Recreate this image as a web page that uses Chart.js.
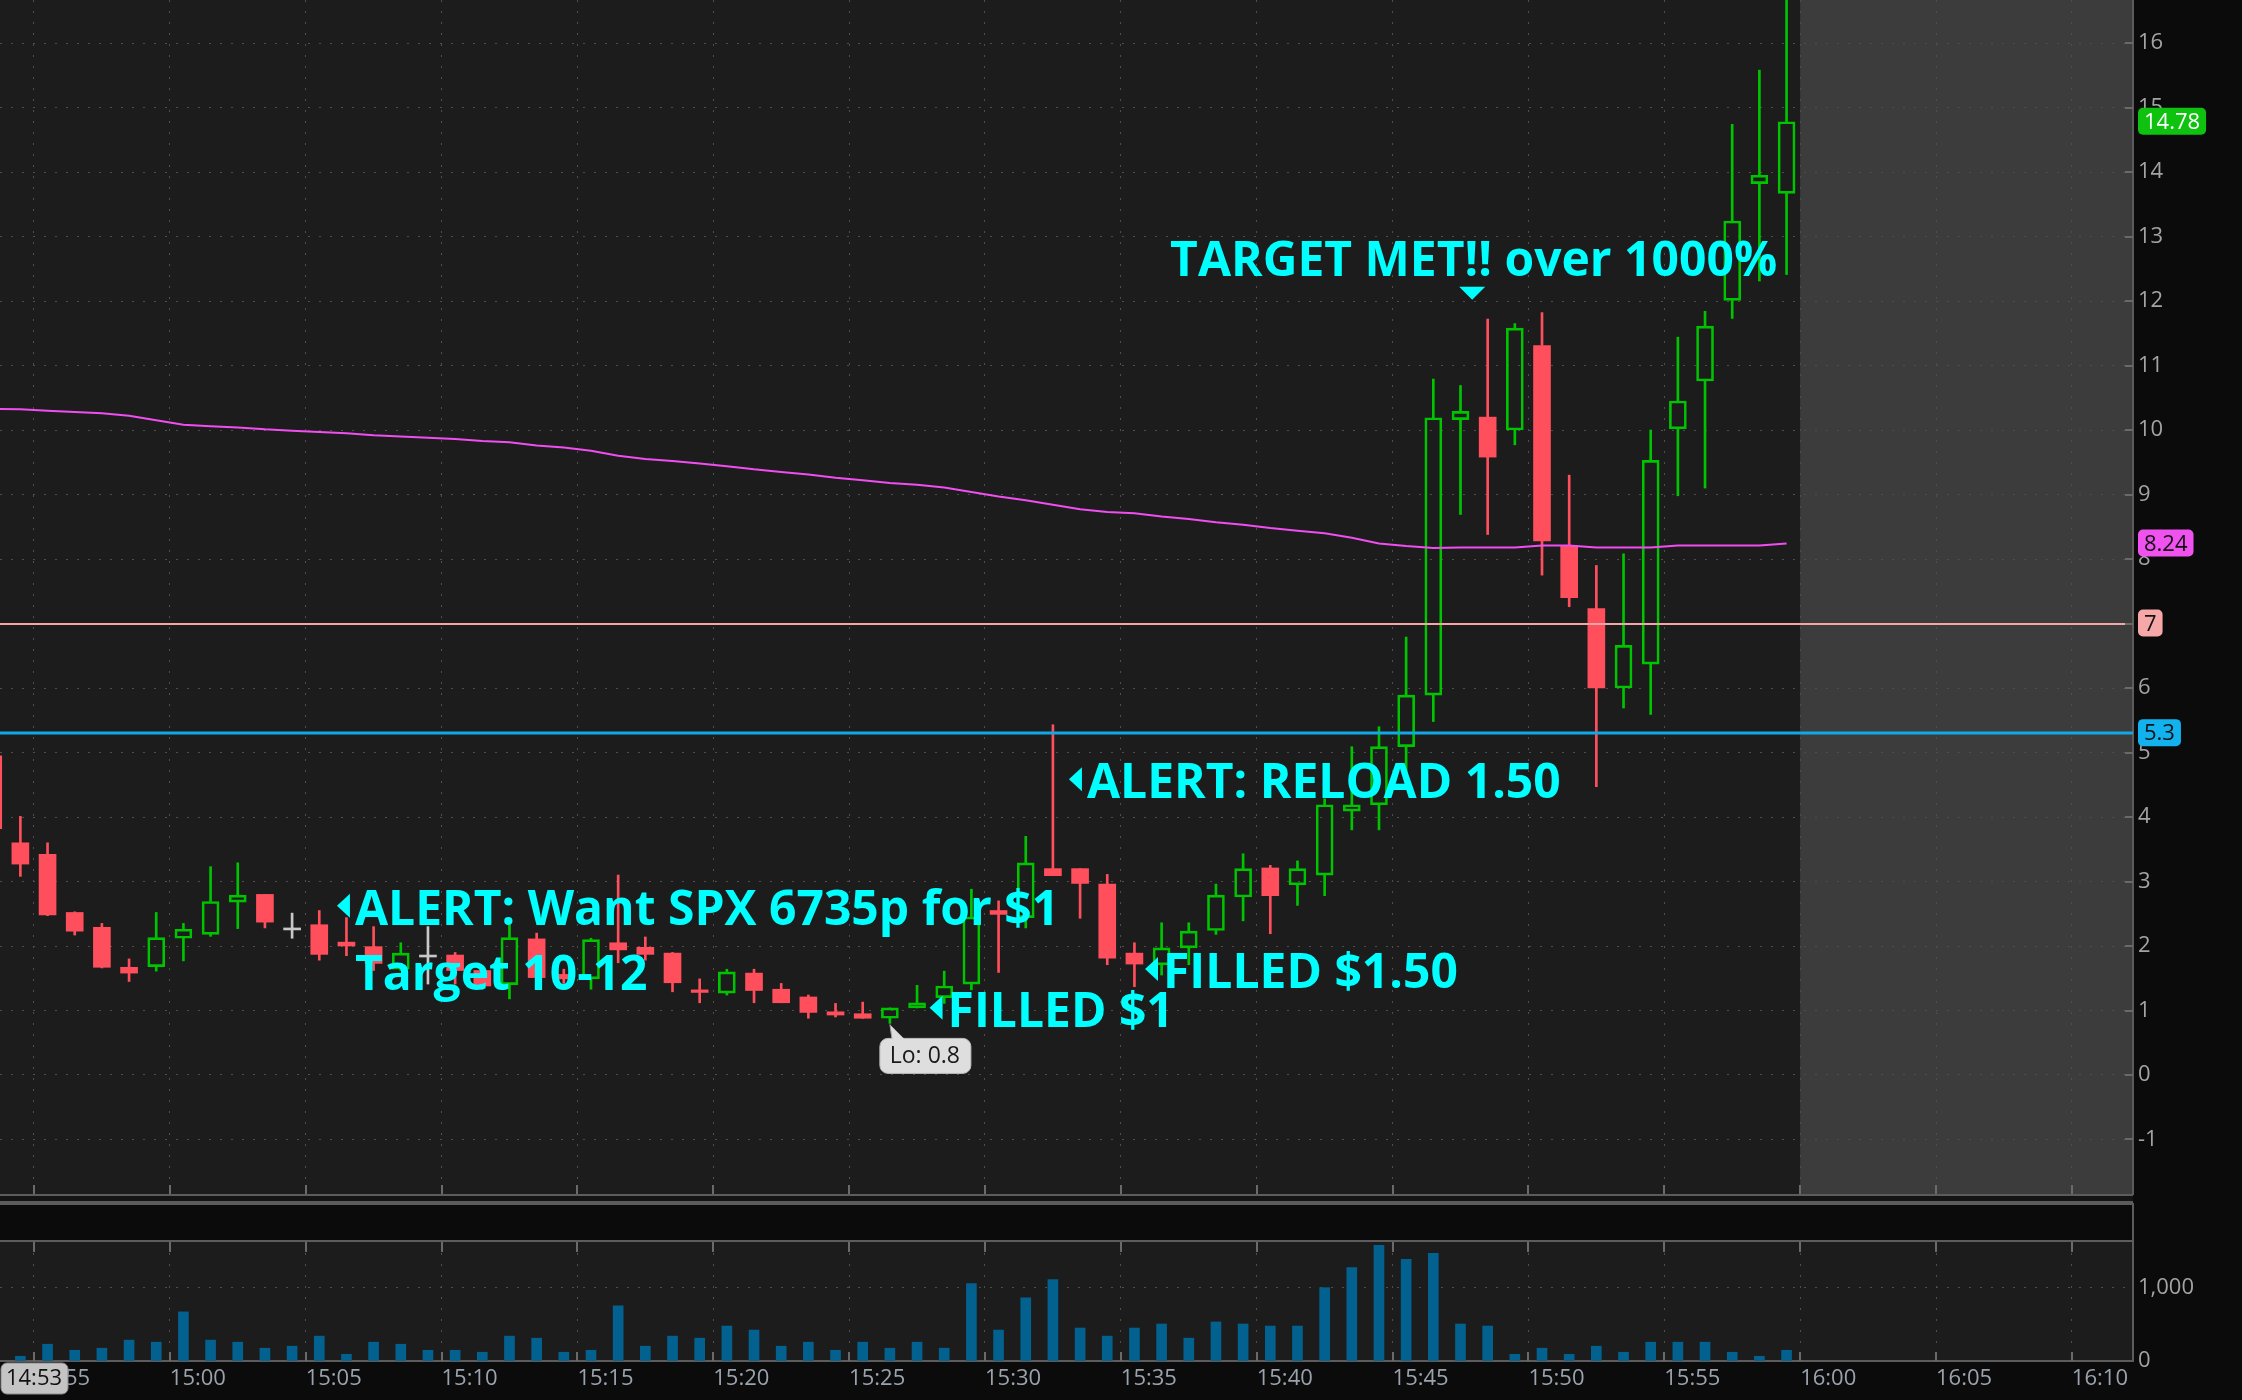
<!DOCTYPE html>
<html lang="en">
<head>
<meta charset="utf-8"/>
<title>SPX 6735p - 1 min</title>
<script src="https://cdn.jsdelivr.net/npm/chart.js"></script>
<style>
html, body { margin: 0; padding: 0; background: #0b0b0b; }
body { width: 2242px; height: 1400px; position: relative; overflow: hidden; }
#priceChart { position: absolute; left: 0; top: 0; }
#volumeChart { position: absolute; left: 0; top: 1203px; }
</style>
</head>
<body>
<canvas id="priceChart" width="2242" height="1203"></canvas>
<canvas id="volumeChart" width="2242" height="197"></canvas>
<script>
// one candle per minute
const times = [
  '14:53','14:54','14:55','14:56','14:57','14:58','14:59',
  '15:00','15:01','15:02','15:03','15:04','15:05','15:06','15:07','15:08','15:09',
  '15:10','15:11','15:12','15:13','15:14','15:15','15:16','15:17','15:18','15:19',
  '15:20','15:21','15:22','15:23','15:24','15:25','15:26','15:27','15:28','15:29',
  '15:30','15:31','15:32','15:33','15:34','15:35','15:36','15:37','15:38','15:39',
  '15:40','15:41','15:42','15:43','15:44','15:45','15:46','15:47','15:48','15:49',
  '15:50','15:51','15:52','15:53','15:54','15:55','15:56','15:57','15:58','15:59'
];
const opens = [
  4.95, 3.60, 3.42, 2.52, 2.29, 1.67, 1.68,
  2.12, 2.18, 2.68, 2.80, 2.28, 2.33, 2.06, 1.99, 1.64, 1.86,
  1.86, 1.62, 1.40, 2.11, 1.56, 1.49, 2.05, 1.98, 1.89, 1.32,
  1.27, 1.58, 1.33, 1.21, 0.98, 0.95, 0.88, 1.04, 1.20, 1.41,
  2.55, 2.44, 3.20, 3.20, 2.96, 1.89, 1.71, 1.97, 2.24, 2.76,
  3.21, 2.95, 3.10, 4.09, 4.19, 5.09, 5.89, 10.16, 10.20, 10.00,
  11.31, 8.21, 7.23, 6.00, 6.37, 10.02, 10.76, 12.01, 13.82, 13.67
];
const highs = [
  5.00, 4.01, 3.60, 2.53, 2.35, 1.80, 2.52,
  2.35, 3.23, 3.29, 2.80, 2.51, 2.55, 2.44, 2.30, 2.05, 2.30,
  1.90, 1.65, 2.33, 2.20, 1.64, 2.12, 3.10, 2.14, 1.90, 1.49,
  1.64, 1.64, 1.42, 1.24, 1.11, 1.13, 1.04, 1.39, 1.61, 2.88,
  2.70, 3.70, 5.43, 3.20, 3.11, 2.05, 2.36, 2.36, 2.96, 3.43,
  3.25, 3.32, 4.28, 5.09, 5.40, 6.79, 10.79, 10.69, 11.72, 11.65,
  11.82, 9.30, 7.90, 8.08, 10.00, 11.44, 11.84, 14.74, 15.58, 16.90
];
const lows = [
  3.75, 3.08, 2.47, 2.17, 1.66, 1.45, 1.61,
  1.77, 2.15, 2.27, 2.28, 2.12, 1.78, 1.85, 1.62, 1.62, 1.41,
  1.41, 1.33, 1.18, 1.45, 1.42, 1.33, 1.74, 1.78, 1.29, 1.12,
  1.24, 1.12, 1.12, 0.88, 0.90, 0.88, 0.80, 1.04, 1.11, 1.32,
  1.59, 2.28, 3.09, 2.43, 1.71, 1.37, 1.55, 1.71, 2.18, 2.39,
  2.19, 2.63, 2.78, 3.80, 3.80, 4.60, 5.48, 8.69, 8.38, 9.77,
  7.75, 7.26, 4.47, 5.69, 5.59, 8.98, 9.10, 11.73, 12.31, 12.41
];
const closes = [
  3.82, 3.27, 2.48, 2.23, 1.67, 1.58, 2.13,
  2.26, 2.69, 2.79, 2.37, 2.28, 1.87, 2.00, 1.73, 1.89, 1.86,
  1.62, 1.38, 2.13, 1.51, 1.49, 2.10, 1.94, 1.87, 1.43, 1.28,
  1.60, 1.31, 1.12, 0.97, 0.93, 0.88, 1.04, 1.12, 1.38, 2.45,
  2.49, 3.29, 3.09, 2.97, 1.81, 1.72, 1.97, 2.23, 2.79, 3.20,
  2.78, 3.20, 4.19, 4.19, 5.09, 5.89, 10.19, 10.29, 9.58, 11.58,
  8.28, 7.40, 6.00, 6.66, 9.53, 10.45, 11.61, 13.24, 13.95, 14.78
];
const volumes = [
  150, 65, 230, 147, 175, 286, 258,
  673, 286, 258, 175, 203, 341, 92, 258, 230, 147,
  147, 120, 341, 313, 120, 147, 756, 203, 341, 313,
  479, 424, 203, 258, 147, 258, 175, 258, 175, 1060,
  424, 866, 1115, 452, 341, 452, 507, 313, 535, 507,
  479, 479, 1005, 1281, 1585, 1392, 1475, 507, 479, 92,
  175, 92, 203, 120, 258, 258, 258, 120, 65, 147
];
const vwap = [
  10.33, 10.32, 10.30, 10.28, 10.26, 10.22, 10.15,
  10.08, 10.06, 10.04, 10.01, 9.99, 9.97, 9.95, 9.92, 9.90, 9.88,
  9.86, 9.83, 9.81, 9.76, 9.73, 9.68, 9.60, 9.55, 9.52, 9.48,
  9.44, 9.39, 9.35, 9.31, 9.26, 9.22, 9.18, 9.15, 9.11, 9.04,
  8.97, 8.91, 8.84, 8.77, 8.73, 8.71, 8.66, 8.62, 8.57, 8.53,
  8.48, 8.44, 8.40, 8.33, 8.24, 8.20, 8.17, 8.18, 8.18, 8.18,
  8.21, 8.21, 8.18, 8.18, 8.18, 8.21, 8.21, 8.21, 8.21, 8.24
];
const priceTicks = [-1, 0, 1, 2, 3, 4, 5, 6, 7, 8, 9, 10, 11, 12, 13, 14, 15, 16];
const volumeTicks = [0, 1000];
const timeTicks = ['14:55','15:00','15:05','15:10','15:15','15:20','15:25','15:30',
                   '15:35','15:40','15:45','15:50','15:55','16:00','16:05','16:10'];
const levels = [7, 5.3];
const sessionEnd = '16:00';
const cursorTime = '14:53';

// notes: time in minutes after 14:00 (arrow tip), price at the text baseline
const notes = [
  { text: 'ALERT: Want SPX 6735p for $1', time: 66.15, price: 2.33, arrow: true },
  { text: 'Target 10-12', time: 66.15, price: 1.32, arrow: false },
  { text: 'ALERT: RELOAD 1.50', time: 93.09, price: 4.29, arrow: true },
  { text: 'FILLED $1.50', time: 95.89, price: 1.35, arrow: true },
  { text: 'FILLED $1', time: 87.96, price: 0.75, arrow: true },
  { text: 'TARGET MET!! over 1000%', time: 96.15, price: 12.39, arrow: false }
];
const targetMark = { time: 107.93, price: 12.02 };

const X_MIN = 53.75, X_MAX = 132.25;
const GREEN = '#00c400', RED = '#ff4f5c', DOJI = '#c8c8c8';
const MAGENTA = '#f04ef0', CYAN = '#00ffff';
const PLOT_BG = '#1c1c1c', FUTURE_BG = '#3c3c3c';
const GRID = '#4e4e4e', AXIS_LINE = '#5c5c5c', TICK_TEXT = '#a3a3a3';
const levelColors = ['#f4a6a6', '#12a8e6'];
const levelWidths = [2, 3];
const FONT = "'Open Sans', 'Noto Sans', sans-serif";

function toMin(hhmm) {
  const [h, m] = hhmm.split(':').map(Number);
  return (h - 14) * 60 + m;
}
function minLabel(v) {
  const h = 14 + Math.floor(v / 60);
  return h + ':' + String(Math.round(v % 60)).padStart(2, '0');
}
// no extra margins from label overflow
function noPad(s) {
  s.paddingTop = 0; s.paddingBottom = 0; s.paddingLeft = 0; s.paddingRight = 0;
}

Chart.defaults.font.family = FONT;

const candleX = times.map(t => toMin(t) + 0.5);
const candleColors = opens.map((o, i) => closes[i] > o ? GREEN : closes[i] < o ? RED : DOJI);
const bodyFill = opens.map((o, i) => closes[i] > o ? 'rgba(0,0,0,0)' : candleColors[i]);
const bodyBorder = opens.map((o, i) => closes[i] > o ? 2 : 0);

function tag(ctx, x, cy, text, bg, fg) {
  ctx.font = '22px ' + FONT;
  const w = ctx.measureText(text).width + 12;
  ctx.fillStyle = bg;
  ctx.beginPath();
  ctx.roundRect(x, cy - 14, w, 27, 5);
  ctx.fill();
  ctx.fillStyle = fg;
  ctx.textAlign = 'left';
  ctx.textBaseline = 'middle';
  ctx.fillText(text, x + 6, cy + 1);
}

const priceDecor = {
  id: 'priceDecor',
  beforeDraw(chart) {
    const { ctx, chartArea: a, scales: { x } } = chart;
    ctx.save();
    ctx.fillStyle = PLOT_BG;
    ctx.fillRect(a.left, a.top, a.width, a.height);
    const fx = x.getPixelForValue(toMin(sessionEnd));
    ctx.fillStyle = FUTURE_BG;
    ctx.fillRect(fx, a.top, a.right - fx, a.height);
    ctx.restore();
  },
  afterDatasetsDraw(chart) {
    const { ctx, chartArea: a, scales: { y } } = chart;
    ctx.save();
    levels.forEach((lv, i) => {
      const py = Math.round(y.getPixelForValue(lv));
      ctx.strokeStyle = levelColors[i];
      ctx.lineWidth = levelWidths[i];
      ctx.beginPath();
      ctx.moveTo(a.left, py);
      ctx.lineTo(a.right, py);
      ctx.stroke();
    });
    ctx.restore();
  },
  afterDraw(chart) {
    const { ctx, chartArea: a, scales: { x, y } } = chart;
    ctx.save();
    // short tick marks inside the plot
    ctx.strokeStyle = '#6a6a6a';
    ctx.lineWidth = 2;
    priceTicks.forEach(v => {
      const py = Math.round(y.getPixelForValue(v));
      ctx.beginPath(); ctx.moveTo(a.right - 8, py); ctx.lineTo(a.right, py); ctx.stroke();
    });
    timeTicks.forEach(t => {
      const px = Math.round(x.getPixelForValue(toMin(t)));
      ctx.beginPath(); ctx.moveTo(px, a.bottom - 9); ctx.lineTo(px, a.bottom); ctx.stroke();
    });
    // strip under the price pane
    ctx.fillStyle = '#141414';
    ctx.fillRect(0, a.bottom, a.right, chart.height - a.bottom);
    ctx.strokeStyle = AXIS_LINE;
    ctx.beginPath(); ctx.moveTo(0, a.bottom + 1); ctx.lineTo(a.right, a.bottom + 1); ctx.stroke();
    ctx.beginPath(); ctx.moveTo(0, chart.height - 1); ctx.lineTo(a.right, chart.height - 1); ctx.stroke();

    // notes
    ctx.fillStyle = CYAN;
    ctx.font = 'bold 48px ' + FONT;
    ctx.textAlign = 'left';
    ctx.textBaseline = 'alphabetic';
    notes.forEach(n => {
      const px = x.getPixelForValue(n.time);
      const py = y.getPixelForValue(n.price);
      if (n.arrow) {
        const cy = py - 19;
        ctx.beginPath();
        ctx.moveTo(px, cy);
        ctx.lineTo(px + 13, cy - 12);
        ctx.lineTo(px + 13, cy + 12);
        ctx.closePath();
        ctx.fill();
      }
      ctx.fillText(n.text, px + 18, py);
    });
    const tx = x.getPixelForValue(targetMark.time);
    const ty = y.getPixelForValue(targetMark.price);
    ctx.beginPath();
    ctx.moveTo(tx, ty);
    ctx.lineTo(tx - 13, ty - 13);
    ctx.lineTo(tx + 13, ty - 13);
    ctx.closePath();
    ctx.fill();

    // low bubble
    let lo = 0;
    lows.forEach((v, i) => { if (v < lows[lo]) lo = i; });
    const lx = x.getPixelForValue(candleX[lo]);
    const ly = y.getPixelForValue(lows[lo]);
    const bx = lx - 10, by = ly + 15;
    ctx.fillStyle = '#dedede';
    ctx.strokeStyle = '#bdbdbd';
    ctx.lineWidth = 1;
    ctx.beginPath();
    ctx.roundRect(bx, by, 91, 35, 8);
    ctx.fill();
    ctx.stroke();
    ctx.beginPath();
    ctx.moveTo(lx, ly + 1);
    ctx.lineTo(lx + 2, by + 1);
    ctx.lineTo(lx + 15, by + 1);
    ctx.closePath();
    ctx.fill();
    ctx.strokeStyle = '#9a9a9a';
    ctx.beginPath(); ctx.moveTo(lx, ly + 1); ctx.lineTo(lx + 2, by); ctx.stroke();
    ctx.fillStyle = '#1a1a1a';
    ctx.font = '23px ' + FONT;
    ctx.textAlign = 'center';
    ctx.textBaseline = 'middle';
    ctx.fillText('Lo: ' + lows[lo], bx + 45, by + 18);

    // price tags on the axis
    const tx0 = a.right + 5;
    tag(ctx, tx0, y.getPixelForValue(levels[1]), String(levels[1]), '#12b2ee', '#111');
    tag(ctx, tx0, y.getPixelForValue(levels[0]), String(levels[0]), '#f6a8a8', '#111');
    tag(ctx, tx0, y.getPixelForValue(vwap[vwap.length - 1]), String(vwap[vwap.length - 1]), '#f052f0', '#111');
    tag(ctx, tx0, y.getPixelForValue(closes[closes.length - 1]), String(closes[closes.length - 1]), '#0fc20f', '#ffffff');
    ctx.restore();
  }
};

new Chart(document.getElementById('priceChart'), {
  type: 'bar',
  data: {
    datasets: [
      {
        type: 'line', label: 'VWAP',
        data: candleX.map((x, i) => ({ x, y: vwap[i] })),
        borderColor: MAGENTA, borderWidth: 2, pointRadius: 0, tension: 0, order: 0
      },
      {
        label: 'body',
        data: candleX.map((x, i) => ({ x, y: [opens[i], closes[i]] })),
        backgroundColor: bodyFill, borderColor: candleColors, borderWidth: bodyBorder,
        borderSkipped: false, barThickness: 17, minBarLength: 2, grouped: false, order: 1
      },
      {
        label: 'upper wick',
        data: candleX.map((x, i) => ({ x, y: [Math.max(opens[i], closes[i]), highs[i]] })),
        backgroundColor: candleColors, borderWidth: 0, barThickness: 2, grouped: false, order: 2
      },
      {
        label: 'lower wick',
        data: candleX.map((x, i) => ({ x, y: [lows[i], Math.min(opens[i], closes[i])] })),
        backgroundColor: candleColors, borderWidth: 0, barThickness: 2, grouped: false, order: 2
      }
    ]
  },
  options: {
    responsive: false,
    devicePixelRatio: 1,
    animation: false,
    events: [],
    layout: { padding: 0 },
    plugins: { legend: { display: false }, tooltip: { enabled: false } },
    scales: {
      x: {
        type: 'linear', min: X_MIN, max: X_MAX, offset: false,
        afterBuildTicks: s => { s.ticks = timeTicks.map(t => ({ value: toMin(t) })); },
        afterFit: s => { s.height = 9; noPad(s); },
        ticks: { display: false },
        grid: { color: GRID, lineWidth: 1, drawTicks: false, offset: false },
        border: { display: false, dash: [2, 9] }
      },
      y: {
        type: 'linear', position: 'right', min: -1.845, max: 16.667,
        afterBuildTicks: s => { s.ticks = priceTicks.map(v => ({ value: v })); },
        afterFit: s => { s.width = 109; noPad(s); },
        ticks: { color: TICK_TEXT, font: { size: 22 }, padding: 5, autoSkip: false },
        grid: { color: GRID, lineWidth: 1, drawTicks: false },
        border: { display: true, color: AXIS_LINE, width: 2, dash: [2, 9] }
      }
    }
  },
  plugins: [priceDecor]
});

const volumeDecor = {
  id: 'volumeDecor',
  beforeDraw(chart) {
    const { ctx, chartArea: a } = chart;
    ctx.save();
    ctx.fillStyle = '#0b0b0b';
    ctx.fillRect(0, 0, chart.width, chart.height);
    ctx.strokeStyle = AXIS_LINE;
    ctx.lineWidth = 2;
    ctx.beginPath(); ctx.moveTo(0, 1); ctx.lineTo(a.right, 1); ctx.lineTo(a.right, a.top); ctx.stroke();
    ctx.beginPath(); ctx.moveTo(0, a.top - 1); ctx.lineTo(a.right, a.top - 1); ctx.stroke();
    ctx.fillStyle = PLOT_BG;
    ctx.fillRect(a.left, a.top, a.width, a.height);
    ctx.restore();
  },
  afterDraw(chart) {
    const { ctx, chartArea: a, scales: { x } } = chart;
    ctx.save();
    ctx.strokeStyle = '#6a6a6a';
    ctx.lineWidth = 2;
    timeTicks.forEach(t => {
      const px = Math.round(x.getPixelForValue(toMin(t)));
      ctx.beginPath(); ctx.moveTo(px, a.top); ctx.lineTo(px, a.top + 10); ctx.stroke();
      ctx.beginPath(); ctx.moveTo(px, a.bottom - 9); ctx.lineTo(px, a.bottom); ctx.stroke();
    });
    // cursor time box
    ctx.fillStyle = '#c4c4c4';
    ctx.strokeStyle = '#8c8c8c';
    ctx.lineWidth = 1;
    ctx.beginPath();
    ctx.roundRect(1, a.bottom + 2, 67, 31, 6);
    ctx.fill();
    ctx.stroke();
    ctx.fillStyle = '#111';
    ctx.font = '22px ' + FONT;
    ctx.textAlign = 'center';
    ctx.textBaseline = 'middle';
    ctx.fillText(cursorTime, 34, a.bottom + 18);
    ctx.restore();
  }
};

new Chart(document.getElementById('volumeChart'), {
  type: 'bar',
  data: {
    datasets: [{
      label: 'Volume',
      data: candleX.map((x, i) => ({ x, y: volumes[i] })),
      backgroundColor: '#03618f', borderWidth: 0, barThickness: 10
    }]
  },
  options: {
    responsive: false,
    devicePixelRatio: 1,
    animation: false,
    events: [],
    layout: { padding: { top: 39 } },
    plugins: { legend: { display: false }, tooltip: { enabled: false } },
    scales: {
      x: {
        type: 'linear', min: X_MIN, max: X_MAX, offset: false,
        afterBuildTicks: s => { s.ticks = timeTicks.map(t => ({ value: toMin(t) })); },
        afterFit: s => { s.height = 39; noPad(s); },
        ticks: {
          color: '#9aa3ad', font: { size: 22 }, align: 'start', padding: 5,
          autoSkip: false, maxRotation: 0, callback: v => minLabel(v)
        },
        grid: { color: GRID, lineWidth: 1, drawTicks: false, offset: false },
        border: { display: true, color: AXIS_LINE, width: 2, dash: [2, 9] }
      },
      y: {
        type: 'linear', position: 'right', min: 0, max: 1630,
        afterBuildTicks: s => { s.ticks = volumeTicks.map(v => ({ value: v })); },
        afterFit: s => { s.width = 109; noPad(s); },
        ticks: { color: TICK_TEXT, font: { size: 22 }, padding: 5, callback: v => v.toLocaleString('en-US') },
        grid: { color: GRID, lineWidth: 1, drawTicks: false },
        border: { display: true, color: AXIS_LINE, width: 2, dash: [2, 9] }
      }
    }
  },
  plugins: [volumeDecor]
});
</script>
</body>
</html>
